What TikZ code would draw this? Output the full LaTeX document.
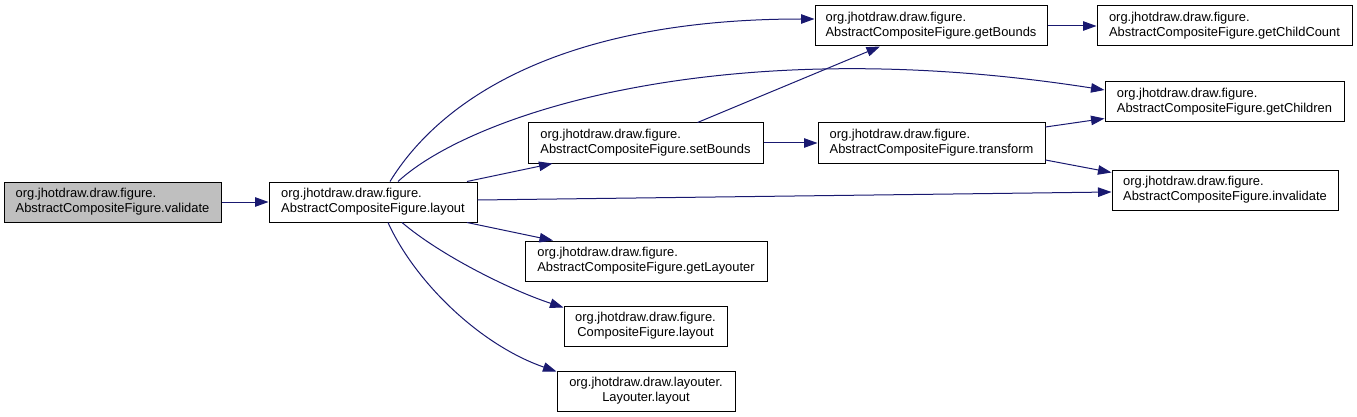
\documentclass[tikz,border=0pt]{standalone}
\usepackage{fontspec}
\setmainfont{Liberation Sans}
\definecolor{edgeblue}{RGB}{25,25,112}
\definecolor{nodegray}{RGB}{191,191,191}
\usepackage{tikz}
\usetikzlibrary{arrows.meta,positioning}

\begin{document}
\begin{tikzpicture}[x=1pt,y=-1pt,
    fn/.style={draw=black,line width=1pt,minimum height=40pt,inner sep=0pt,align=left,
      font=\fontsize{12.9}{15}\selectfont},
    fnc/.style={fn,align=center},
    call/.style={edgeblue,line width=1pt,-{Triangle[length=13.5pt,width=9.5pt]}}]
  \useasboundingbox (0,0) rectangle (1357,417);
  % functions
  \node[fn,fill=nodegray,minimum width=217pt] (validate) at (112.5,202) {org.jhotdraw.draw.figure.\\AbstractCompositeFigure.validate};
  \node[fn,minimum width=208pt] (layout) at (373,202) {org.jhotdraw.draw.figure.\\AbstractCompositeFigure.layout};
  \node[fn,minimum width=235pt] (setBounds) at (645.5,143) {org.jhotdraw.draw.figure.\\AbstractCompositeFigure.setBounds};
  \node[fn,minimum width=242pt] (getLayouter) at (646,261) {org.jhotdraw.draw.figure.\\AbstractCompositeFigure.getLayouter};
  \node[fnc,minimum width=163pt] (compLayout) at (645.5,326) {org.jhotdraw.draw.figure.\\CompositeFigure.layout};
  \node[fnc,minimum width=178pt] (layouterLayout) at (646,391) {org.jhotdraw.draw.layouter.\\Layouter.layout};
  \node[fn,minimum width=232pt] (getBounds) at (931,26) {org.jhotdraw.draw.figure.\\AbstractCompositeFigure.getBounds};
  \node[fn,minimum width=227pt] (transform) at (931.5,143) {org.jhotdraw.draw.figure.\\AbstractCompositeFigure.transform};
  \node[fn,minimum width=255pt] (getChildCount) at (1224.5,26) {org.jhotdraw.draw.figure.\\AbstractCompositeFigure.getChildCount};
  \node[fn,minimum width=239pt] (getChildren) at (1224.5,102) {org.jhotdraw.draw.figure.\\AbstractCompositeFigure.getChildren};
  \node[fn,minimum width=226pt] (invalidate) at (1225,190) {org.jhotdraw.draw.figure.\\AbstractCompositeFigure.invalidate};
  % calls
  \draw[call] (validate.east) -- (layout.west);
  \draw[call] ([xshift=17pt]layout.north) .. controls (440,100) and (560,19) .. ([yshift=7pt]getBounds.west);
  \draw[call] ([xshift=25pt]layout.north) .. controls (470,115) and (720,30) .. ([yshift=12pt]getChildren.west);
  \draw[call] ([xshift=94pt]layout.north) -- ([xshift=-93pt]setBounds.south);
  \draw[call] ([yshift=2pt]layout.east) -- ([yshift=-2pt]invalidate.west);
  \draw[call] ([xshift=94pt]layout.south) -- ([xshift=-93pt]getLayouter.north);
  \draw[call] ([xshift=29pt]layout.south) .. controls (440,255) and (510,290) .. ([yshift=-2pt]compLayout.north west);
  \draw[call] ([xshift=15pt]layout.south) .. controls (415,282) and (480,345) .. ([yshift=-1pt]layouterLayout.north west);
  \draw[call] ([xshift=52pt]setBounds.north) -- ([xshift=-51pt]getBounds.south);
  \draw[call] (setBounds.east) -- (transform.west);
  \draw[call] (getBounds.east) -- (getChildCount.west);
  \draw[call] ([yshift=16pt]transform.east) -- ([yshift=4pt]getChildren.south west);
  \draw[call] ([yshift=-17pt]transform.east) -- ([yshift=-3pt]invalidate.north west);
\end{tikzpicture}
\end{document}
